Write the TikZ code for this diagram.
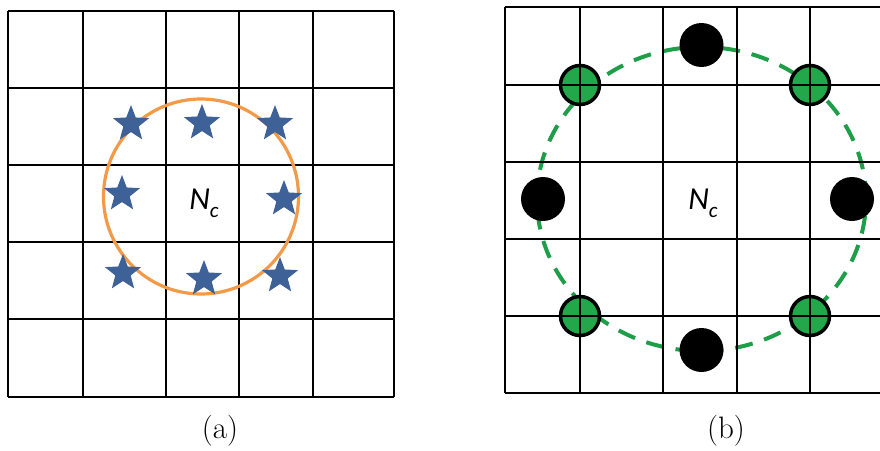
\documentclass[tikz,border=0pt]{standalone}
\usepackage{fontspec}
\newfontfamily\labfont{Carlito}
\usetikzlibrary{shapes.geometric}
\definecolor{starblue}{HTML}{3E6297}
\definecolor{ringorange}{HTML}{F29A48}
\definecolor{dashgreen}{HTML}{1E9E48}
\definecolor{dotgreen}{HTML}{22A84A}
\tikzset{
  gridline/.style={line width=2.2pt, black},
  starnode/.style={star, star points=5, star point ratio=2.35, fill=starblue, draw=none, minimum size=38pt, inner sep=0pt},
  blackdot/.style={circle, fill=black, minimum size=44pt, inner sep=0pt},
  greendot/.style={circle, fill=dotgreen, draw=black, line width=3.5pt, minimum size=39pt, inner sep=0pt},
  nclabel/.style={font=\labfont\fontsize{32}{36}\selectfont\itshape, inner sep=0pt},
  caption/.style={font=\fontsize{31}{36}\selectfont, inner sep=0pt}
}
\newcommand{\ncsym}{N\raisebox{-0.25em}{\fontsize{21}{24}\selectfont c}}
\begin{document}
\begin{tikzpicture}[x=1pt,y=-1pt]
\useasboundingbox (0,0) rectangle (880,450);
% ---------- (a) ----------
\foreach \xx in {8,83,166,239,313,394} \draw[gridline] (\xx,11) -- (\xx,397);
\foreach \yy in {11,88,165,242,319,397} \draw[gridline] (8,\yy) -- (394,\yy);
\node[circle, draw=ringorange, line width=3.2pt, minimum size=195pt, inner sep=0pt] (ring) at (201,196.5) {};
\node[starnode] (s1) at (131,124) {};
\node[starnode] (s2) at (202,123) {};
\node[starnode] (s3) at (275,124) {};
\node[starnode] (s4) at (122,194) {};
\node[starnode] (s5) at (284,199) {};
\node[starnode] (s6) at (123,273) {};
\node[starnode] (s7) at (204,279) {};
\node[starnode] (s8) at (280,276) {};
\node[nclabel] (nca) at (204,203) {\ncsym};
\node[caption] (capa) at (220,431) {(a)};
% ---------- (b) ----------
\begin{scope}
\clip (500,0) rectangle (880,450);
\node[ellipse, draw=dashgreen, line width=4pt, dash pattern=on 18pt off 12pt, minimum width=329pt, minimum height=304pt, inner sep=0pt] (dring) at (701.5,199) {};
\node[greendot] (g1) at (580,85) {};
\node[greendot] (g2) at (810,85) {};
\node[greendot] (g3) at (580,316) {};
\node[greendot] (g4) at (810,316) {};
\foreach \xx in {505,580,663,737,810} \draw[gridline] (\xx,7) -- (\xx,393);
\foreach \yy in {7,85,162,239,316,393} \draw[gridline] (505,\yy) -- (880,\yy);
\node[blackdot] (d1) at (701.5,45) {};
\node[blackdot] (d2) at (543,199) {};
\node[blackdot] (d3) at (852,199) {};
\node[blackdot] (d4) at (701.5,350) {};
\end{scope}
\node[nclabel] (ncb) at (703,203) {\ncsym};
\node[caption] (capb) at (726,431) {(b)};
\end{tikzpicture}
\end{document}
